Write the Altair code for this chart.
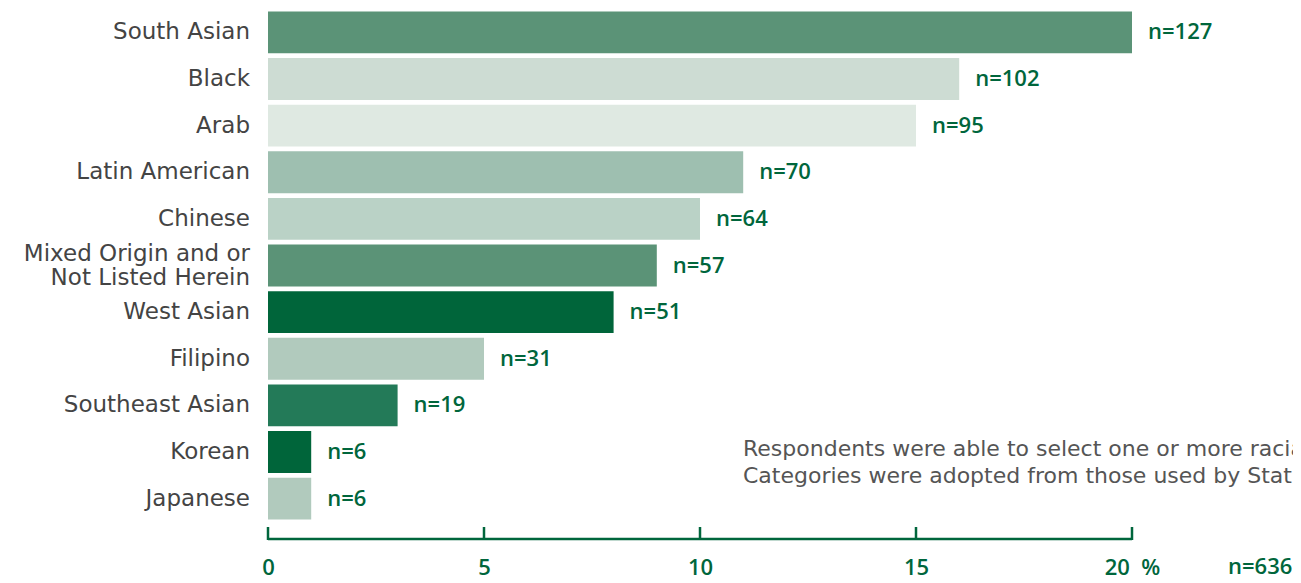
import altair as alt
import pandas as pd

categories = ["South Asian", "Black", "Arab", "Latin American", "Chinese",
              "Mixed Origin and or / Not Listed Herein", "West Asian", "Filipino",
              "Southeast Asian", "Korean", "Japanese"]
category_lines = [["South Asian"], ["Black"], ["Arab"], ["Latin American"], ["Chinese"],
                  ["Mixed Origin and or", "Not Listed Herein\u00a0"], ["West Asian"], ["Filipino"],
                  ["Southeast Asian"], ["Korean"], ["Japanese"]]
percents = [20, 16, 15, 11, 10, 9, 8, 5, 3, 1, 1]
counts = [127, 102, 95, 70, 64, 57, 51, 31, 19, 6, 6]
colors = ["#5b9377", "#cddcd3", "#dfe9e2", "#9ebfb0", "#bad2c6", "#5b9377",
          "#00653a", "#b1cabd", "#237a58", "#00653a", "#b1cabd"]
tick_values = [0, 5, 10, 15, 20]
total_label = "n=636"
note_lines = ["Respondents were able to select one or more racial categories.",
              "Categories were adopted from those used by Statistics Canada."]

GREEN = "#00663c"
FONT = "Open Sans"
CAT_FONT = "DejaVu Sans"

df = pd.DataFrame({"cat": categories, "pct": percents,
                   "lab": [f"n={c}" for c in counts],
                   "lines": category_lines,
                   "nl": [len(l) for l in category_lines]})
ticks_df = pd.DataFrame({"t": tick_values})

W, H = 864, 511

y_scale = alt.Scale(domain=categories, paddingInner=0.1, paddingOuter=0.03)
x_scale = alt.Scale(domain=[0, 20], nice=False, zero=True)


def yenc():
    return alt.Y("cat:N", sort=categories, scale=y_scale, axis=None)


x_axis = alt.Axis(title=None, values=tick_values, grid=False, domain=False,
                  ticks=False, tickSize=0, labelPadding=46, labelFlush=False,
                  labelBaseline="middle", labelFont=FONT, labelFontSize=22,
                  labelFontWeight=600, labelColor=GREEN,
                  labelExpr="datum.value == 20 ? '20\u00a0\u00a0%' : datum.label")

bars = alt.Chart(df).mark_bar().encode(
    x=alt.X("pct:Q", scale=x_scale, axis=x_axis),
    y=yenc(),
    color=alt.Color("cat:N", scale=alt.Scale(domain=categories, range=colors), legend=None),
)

cat_single = alt.Chart(df).transform_filter("datum.nl == 1").mark_text(
    align="right", baseline="middle", font=CAT_FONT, fontSize=23, color="#444444").encode(
    x=alt.value(-18), y=yenc(), text="lines")

cat_multi = alt.Chart(df).transform_filter("datum.nl == 2").mark_text(
    align="right", baseline="middle", font=CAT_FONT, fontSize=23, lineHeight=24,
    dy=-12, color="#444444").encode(
    x=alt.value(-18), y=yenc(), text="lines")

labels = alt.Chart(df).mark_text(align="left", baseline="middle", dx=16,
                                 font=FONT, fontSize=22, fontWeight=600,
                                 color=GREEN).encode(
    x=alt.X("pct:Q", scale=x_scale), y=yenc(), text="lab:N")

domain_rule = alt.Chart(pd.DataFrame({"a": [0], "b": [20]})).mark_rule(
    color=GREEN, strokeWidth=2.5).encode(
    x=alt.X("a:Q", scale=x_scale), x2="b:Q", y=alt.value(529))

tick_rules = alt.Chart(ticks_df).mark_rule(color=GREEN, strokeWidth=2.5).encode(
    x=alt.X("t:Q", scale=x_scale), y=alt.value(517), y2=alt.value(530))

total = alt.Chart(pd.DataFrame({"t": [total_label]})).mark_text(
    align="left", baseline="middle", font=FONT, fontSize=22, fontWeight=600,
    color=GREEN).encode(x=alt.value(960), y=alt.value(557), text="t:N")

note = alt.Chart(pd.DataFrame({"t": [note_lines]})).mark_text(
    align="left", baseline="middle", font=CAT_FONT, fontSize=22, lineHeight=27,
    color="#555555").encode(x=alt.value(475), y=alt.value(439), text="t")

chart = alt.layer(bars, cat_single, cat_multi, labels, domain_rule, tick_rules,
                  total, note).properties(
    width=W, height=H,
    background="white",
    autosize=alt.AutoSizeParams(type="none"),
    padding={"left": 260, "top": 2, "right": 161, "bottom": 54},
).configure_view(strokeWidth=0, stroke=None).configure_axis(grid=False)

chart.save("out.html", embed_options={"renderer": "svg", "actions": False})
